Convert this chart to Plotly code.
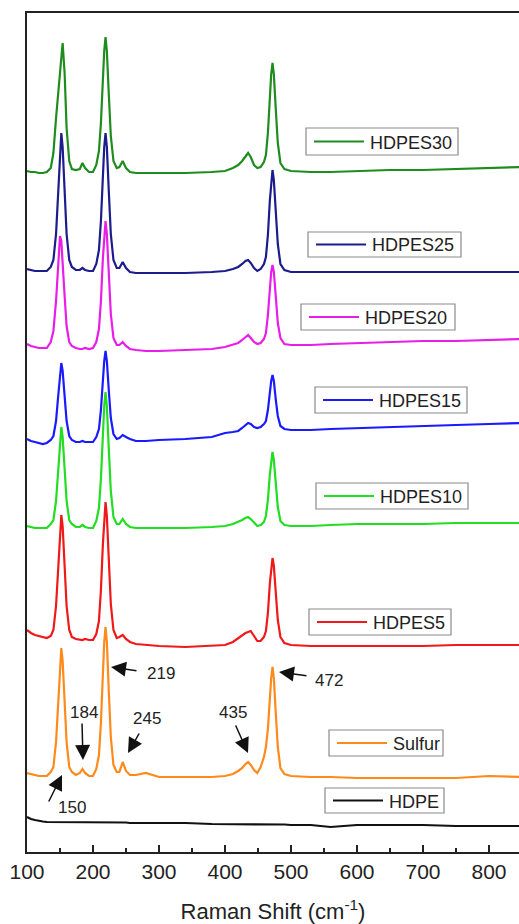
import plotly.graph_objects as go

# ---------------- data ----------------
raman_shift = [100, 106, 112, 118, 124, 130, 136, 140, 144, 147,
               150, 152, 154, 157, 160, 164, 168, 174, 180, 184,
               188, 194, 200, 205, 209, 212, 215, 217, 219, 221,
               224, 227, 231, 236, 240, 245, 250, 256, 265, 280,
               300, 340, 380, 400, 412, 420, 426, 431, 435, 439,
               444, 449, 454, 459, 462, 465, 468, 470, 472, 474,
               477, 480, 484, 490, 500, 530, 560, 600, 650, 700,
               750, 800, 850]

series_names = ["HDPE", "Sulfur", "HDPES5", "HDPES10", "HDPES15", "HDPES20", "HDPES25", "HDPES30"]
offsets = [29, 75, 206, 324, 412, 501, 579, 679]

hdpe = [6, 4, 3, 2, 1.5, 1, 1, 1, 1, 1,
        1, 1, 1, 1, 1, 1, 1, 1, 0.5, 0.5,
        0.5, 0.5, 0.5, 0.5, 0.5, 0.5, 0.5, 0.5, 0.5, 0.5,
        0.5, 0.5, 0.5, 0.5, 0.5, 0.5, 0.5, 0, 0, 0,
        0, 0, -1, -1, -1, -1, -1, -1, -1, -1,
        -1, -1, -1.5, -1.5, -1.5, -1.5, -1.5, -1.5, -1.5, -1.5,
        -1.5, -1.5, -1.5, -1.5, -2, -2, -4, -2, -2, -2,
        -3, -3, -3]

sulfur = [4, 3, 2, 1, 1, 1, 5, 10, 35, 74,
          116, 129, 116, 74, 35, 10, 5, 2, 4, 8,
          4, 1, 1, 8, 22, 54, 105, 135, 150, 135,
          85, 40, 12, 5, 5, 15, 6, 2, 2, 4,
          0, 0, 0, 1, 3, 6, 9, 13, 15, 12,
          7, 4, 10, 20, 30, 48, 80, 99, 110, 99,
          63, 30, 9, 3, 1, 0, 0, -1, -1, -1,
          -1, 1, 0]

hdpes5 = [16, 13, 11, 10, 9, 8, 10, 16, 40, 78,
          120, 131, 120, 78, 40, 16, 9, 7, 6, 6,
          7, 6, 6, 12, 25, 56, 102, 130, 144, 130,
          84, 42, 16, 8, 9, 11, 7, 4, 2, 1,
          0, -1, 0, 1, 4, 8, 11, 13, 14, 15,
          10, 5, 5, 9, 15, 33, 63, 80, 88, 80,
          52, 26, 9, 3, 1, 0, 0, 0, 0, 0,
          1, 1, 1]

hdpes10 = [2, 1, 0, 0, 0, 0, 4, 8, 27, 58,
           91, 101, 91, 58, 27, 8, 4, 1, 1, 3,
           1, 0, 0, 7, 20, 49, 95, 122, 136, 122,
           78, 37, 11, 4, 4, 9, 4, 1, 0, 0,
           0, 0, 1, 2, 4, 6, 8, 10, 11, 9,
           5, 2, 3, 6, 12, 28, 54, 68, 76, 68,
           44, 21, 7, 3, 2, 2, 3, 4, 4, 4,
           5, 5, 5]

hdpes15 = [1, -1, -2, -3, -4, -3, 0, 4, 19, 42,
           69, 77, 69, 42, 19, 4, 0, -2, -2, -1,
           -2, -2, -2, 3, 11, 30, 61, 79, 89, 79,
           49, 22, 6, 1, 2, 5, 3, 1, -1, -1,
           0, 1, 3, 7, 8, 9, 12, 15, 17, 16,
           13, 12, 13, 16, 19, 30, 48, 59, 65, 59,
           40, 24, 14, 11, 10, 10, 11, 12, 13, 14,
           15, 16, 17]

hdpes20 = [7, 5, 4, 3, 3, 3, 9, 20, 50, 88,
           115, 110, 92, 55, 25, 9, 5, 3, 2, 2,
           3, 2, 3, 9, 22, 50, 93, 118, 130, 117,
           76, 37, 13, 6, 6, 9, 5, 2, 1, 0,
           0, 1, 2, 4, 6, 8, 11, 14, 16, 13,
           9, 7, 8, 12, 18, 36, 64, 79, 86, 79,
           54, 28, 13, 7, 6, 6, 7, 8, 9, 10,
           10, 11, 12]

hdpes25 = [4, 3, 2, 2, 2, 2, 6, 13, 39, 81,
           126, 140, 126, 81, 39, 13, 6, 3, 3, 5,
           3, 2, 2, 9, 23, 52, 99, 126, 140, 126,
           81, 39, 13, 5, 5, 11, 5, 1, 0, 0,
           0, 0, 1, 2, 4, 6, 9, 12, 13, 10,
           5, 2, 4, 9, 16, 38, 73, 93, 103, 93,
           60, 29, 9, 3, 1, 1, 1, 1, 1, 1,
           1, 1, 1]

hdpes30 = [2, 1, 1, 0, 0, 1, 5, 20, 55, 80,
           103, 120, 130, 100, 45, 12, 4, 3, 4, 10,
           5, 1, 1, 8, 22, 50, 95, 122, 136, 122,
           78, 37, 12, 5, 6, 12, 5, 1, 0, 0,
           0, 0, 1, 2, 5, 8, 12, 17, 20, 16,
           8, 5, 6, 11, 18, 40, 77, 99, 110, 99,
           63, 30, 10, 4, 2, 1, 1, 2, 3, 3,
           4, 5, 6]

spectra = [hdpe, sulfur, hdpes5, hdpes10, hdpes15, hdpes20, hdpes25, hdpes30]
colors = ["#111111", "#ff8a1c", "#f01818", "#22dd22", "#1a1aff", "#e81ee8", "#1c1c8c", "#1f8c1f"]

peak_labels = ["219", "472", "184", "245", "435", "150"]

# ---------------- figure ----------------
W, H = 519, 924
ML, MR, MT, MB = 27, 0, 13, 72
PW, PH = W - ML - MR, H - MT - MB


def pxx(px):
    return (px - ML) / PW


def pxy(py):
    return (H - MB - py) / PH


fig = go.Figure()
for i in reversed(range(len(series_names))):
    fig.add_trace(go.Scatter(
        x=raman_shift,
        y=[offsets[i] + v for v in spectra[i]],
        mode="lines",
        name=series_names[i],
        line=dict(color=colors[i], width=2.2),
        showlegend=False,
    ))

# legend boxes (left, top, right, bottom in pixels)
legend_boxes = [
    (325, 788, 444, 813),   # HDPE
    (329, 730, 443, 756),   # Sulfur
    (309, 609, 451, 635),   # HDPES5
    (316, 483, 468, 509),   # HDPES10
    (315, 387, 467, 413),   # HDPES15
    (301, 304, 455, 330),   # HDPES20
    (308, 232, 461, 257),   # HDPES25
    (306, 128, 458, 155),   # HDPES30
]
shapes = []
annotations = []
for i, (l, t, r, b) in enumerate(legend_boxes):
    cy = (t + b) / 2
    shapes.append(dict(type="rect", xref="paper", yref="paper",
                       x0=pxx(l), x1=pxx(r), y0=pxy(b), y1=pxy(t),
                       line=dict(color="#8a8a8a", width=1.2), fillcolor="white", layer="above"))
    shapes.append(dict(type="line", xref="paper", yref="paper",
                       x0=pxx(l + 8), x1=pxx(l + 58), y0=pxy(cy), y1=pxy(cy),
                       line=dict(color=colors[i], width=2), layer="above"))
    annotations.append(dict(xref="paper", yref="paper", x=pxx(l + 62), y=pxy(cy + 1),
                            xanchor="left", yanchor="middle", showarrow=False,
                            text=series_names[i], font=dict(size=18, color="#222")))

# peak label arrows: head (px), tail (px), label centre (px)
arrows = [
    ((111, 667), (138, 671), (161, 673)),
    ((279, 672), (308, 676), (329, 680)),
    ((83, 760), (82, 722), (84, 712)),
    ((128, 753), (140, 732), (147, 718)),
    ((248, 753), (235, 724), (233, 712)),
    ((62, 775), (48, 803), (72, 807)),
]
for lab, (head, tail, cen) in zip(peak_labels, arrows):
    annotations.append(dict(xref="paper", yref="paper", x=pxx(head[0]), y=pxy(head[1]),
                            ax=tail[0] - head[0], ay=tail[1] - head[1],
                            text="", showarrow=True, arrowhead=2, arrowsize=2.0,
                            arrowwidth=1.5, arrowcolor="#111"))
    annotations.append(dict(xref="paper", yref="paper", x=pxx(cen[0]), y=pxy(cen[1]),
                            xanchor="center", yanchor="middle", showarrow=False,
                            text=lab, font=dict(size=17, color="#222")))

fig.update_layout(
    width=W, height=H,
    margin=dict(l=ML, r=MR, t=MT, b=MB),
    plot_bgcolor="white", paper_bgcolor="white",
    font=dict(family="Liberation Sans, Arial, sans-serif", color="#222"),
    showlegend=False,
    shapes=shapes,
    annotations=annotations,
)
fig.update_xaxes(
    range=[100, 100 + PW / 0.66], tick0=100, dtick=100,
    ticks="inside", ticklen=7, tickwidth=1.5, tickcolor="#222",
    showline=True, linecolor="#222", linewidth=1.5, mirror=True,
    showgrid=False, zeroline=False,
    tickfont=dict(size=21, color="#222"),
    minor=dict(ticks="inside", ticklen=4, tickwidth=1.5, tickcolor="#222", dtick=50, tick0=100, showgrid=False),
    title=dict(text="Raman Shift (cm<sup>-1</sup>)", font=dict(size=22, color="#222"), standoff=22),
)
fig.update_yaxes(
    range=[0, PH], showticklabels=False, ticks="",
    showline=True, linecolor="#222", linewidth=1.5, mirror=False,
    showgrid=False, zeroline=False,
)

fig.write_html("out.html")
